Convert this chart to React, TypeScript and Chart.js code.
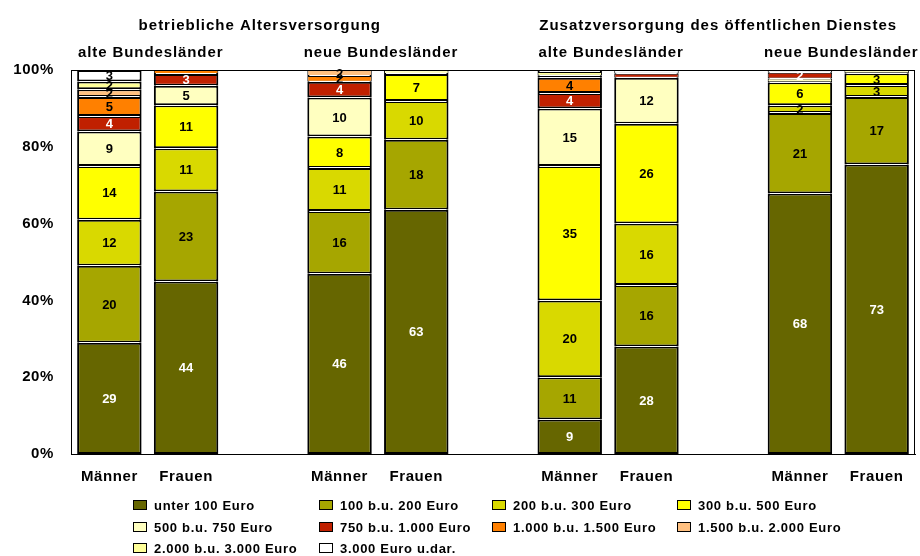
import React, { useEffect, useRef } from "react";
import { Chart, registerables } from "chart.js";

Chart.register(...registerables);

const FONT = '"Liberation Sans", Arial, sans-serif';

// 11 slots: 4 groups of two bars, separated by empty slots
const categories = ["Männer", "Frauen", "", "Männer", "Frauen", "", "Männer", "Frauen", "", "Männer", "Frauen"];

const mainTitles = ["betriebliche Altersversorgung", "Zusatzversorgung des öffentlichen Dienstes"];
const subTitles = ["alte Bundesländer", "neue Bundesländer", "alte Bundesländer", "neue Bundesländer"];
const groupSlots = [[0, 1], [3, 4], [6, 7], [9, 10]];

const seriesNames = [
  "unter 100 Euro",
  "100 b.u. 200 Euro",
  "200 b.u. 300 Euro",
  "300 b.u. 500 Euro",
  "500 b.u. 750 Euro",
  "750 b.u. 1.000 Euro",
  "1.000 b.u. 1.500 Euro",
  "1.500 b.u. 2.000 Euro",
  "2.000 b.u. 3.000 Euro",
  "3.000 Euro u.dar.",
];

// values per slot (null = empty slot)
const unter100 = [29, 44, null, 46, 63, null, 9, 28, null, 68, 73];
const b100_200 = [20, 23, null, 16, 18, null, 11, 16, null, 21, 17];
const b200_300 = [12, 11, null, 11, 10, null, 20, 16, null, 2, 3];
const b300_500 = [14, 11, null, 8, 7, null, 35, 26, null, 6, 3];
const b500_750 = [9, 5, null, 10, 1, null, 15, 12, null, 1, 0.8];
const b750_1000 = [4, 3, null, 4, 0, null, 4, 1, null, 1.5, 0];
const b1000_1500 = [5, 1, null, 1.5, 0, null, 4, 0, null, 0, 0];
const b1500_2000 = [2, 0, null, 1.5, 0, null, 0.5, 0, null, 0, 0];
const b2000_3000 = [2, 0, null, 0, 0, null, 1, 0, null, 0, 0];
const b3000 = [3, 0, null, 0, 0, null, 0.5, 1, null, 0.7, 0];

const seriesColors = [
  "#666600",
  "#A6A600",
  "#D9D900",
  "#FFFF00",
  "#FFFFC0",
  "#C02000",
  "#FF8000",
  "#FFC080",
  "#FFFF99",
  "#FFFFFF",
];
const whiteLabel = [true, false, false, false, false, true, false, false, false, false];

const yTicks = [0, 20, 40, 60, 80, 100];

const seriesValues = [
  unter100, b100_200, b200_300, b300_500, b500_750,
  b750_1000, b1000_1500, b1500_2000, b2000_3000, b3000,
];

export default function App() {
  const ref = useRef<HTMLCanvasElement>(null);

  useEffect(() => {
    document.body.style.margin = "0";
    const canvas = ref.current!;
    const totals = categories.map((_, i) =>
      seriesValues.reduce((s, arr) => s + ((arr[i] as number | null) ?? 0), 0)
    );
    const datasets = seriesValues.map((arr, k) => ({
      label: seriesNames[k],
      data: arr.map((v, i) => (v == null || v === 0 ? null : ((v as number) / totals[i]) * 100)),
      backgroundColor: seriesColors[k],
      borderColor: "#000000",
      borderWidth: (c: any) => {
        const v = c.raw as number | null;
        return v != null && v < 1.6 ? 1 : 2;
      },
      borderSkipped: false as const,
      inflateAmount: 0,
      barPercentage: 0.84,
      categoryPercentage: 1,
    }));

    const textPlugin = {
      id: "texts",
      beforeDraw(chart: any) {
        chart.ctx.letterSpacing = "0.6px";
      },
      beforeDatasetsDraw(chart: any) {
        chart.ctx.letterSpacing = "0px";
      },
      afterDatasetsDraw(chart: any) {
        const ctx = chart.ctx as CanvasRenderingContext2D;
        ctx.save();
        (ctx as any).letterSpacing = "0px";
        // white separators between stacked segments
        ctx.fillStyle = "#ffffff";
        seriesValues.forEach((arr, k) => {
          const meta = chart.getDatasetMeta(k);
          meta.data.forEach((el: any, i: number) => {
            const v = arr[i];
            if (v == null || v === 0) return;
            const p = el.getProps(["x", "y", "base", "width"], true);
            if (p.y <= chart.chartArea.top + 1) return;
            ctx.fillRect(p.x - p.width / 2 + 2, Math.round(p.y - 0.5), p.width - 4, 1);
          });
        });
        ctx.font = `bold 13px ${FONT}`;
        ctx.textAlign = "center";
        ctx.textBaseline = "middle";
        seriesValues.forEach((arr, k) => {
          const meta = chart.getDatasetMeta(k);
          meta.data.forEach((el: any, i: number) => {
            const v = arr[i];
            if (v == null || Math.round(v as number) < 2) return;
            const p = el.getProps(["x", "y", "base"], true);
            ctx.fillStyle = whiteLabel[k] ? "#ffffff" : "#000000";
            ctx.fillText(String(Math.round(v as number)), p.x, (p.y + p.base) / 2 + 1);
          });
        });
        ctx.restore();
      },
      afterDraw(chart: any) {
        const ctx = chart.ctx as CanvasRenderingContext2D;
        const area = chart.chartArea;
        const xs = chart.scales.x;
        ctx.save();
        // plot frame
        ctx.strokeStyle = "#000";
        ctx.lineWidth = 1;
        ctx.strokeRect(Math.round(area.left) + 0.5, Math.round(area.top) + 0.5,
          Math.round(area.right - area.left) - 1, Math.round(area.bottom - area.top));

        ctx.fillStyle = "#000";
        ctx.textAlign = "center";
        ctx.textBaseline = "middle";
        const centers = groupSlots.map(
          ([a, b]) => (xs.getPixelForValue(a) + xs.getPixelForValue(b)) / 2 + 3
        );
        ctx.font = `bold 15px ${FONT}`;
        (ctx as any).letterSpacing = "0.9px";
        subTitles.forEach((t, i) => ctx.fillText(t, centers[i], 53));
        (ctx as any).letterSpacing = "1px";
        ctx.fillText(mainTitles[0], (centers[0] + centers[1]) / 2 - 6, 26);
        ctx.fillText(mainTitles[1], (centers[2] + centers[3]) / 2 - 8, 26);

        // legend
        const colX = [133, 319, 492, 677];
        const rowY = [505, 527, 548];
        ctx.font = `bold 13px ${FONT}`;
        (ctx as any).letterSpacing = "0.7px";
        ctx.textAlign = "left";
        seriesNames.forEach((name, k) => {
          const c = k % 4;
          const r = Math.floor(k / 4);
          const bx = colX[c];
          const by = rowY[r];
          ctx.fillStyle = seriesColors[k];
          ctx.fillRect(bx, by - 5, 14, 10);
          ctx.strokeStyle = "#000";
          ctx.strokeRect(bx + 0.5, by - 4.5, 13, 9);
          ctx.fillStyle = "#000";
          ctx.fillText(name, bx + 21, by + 1);
        });
        ctx.restore();
      },
    };

    const chart = new Chart(canvas, {
      type: "bar",
      data: { labels: categories, datasets },
      options: {
        animation: false,
        responsive: false,
        maintainAspectRatio: false,
        layout: { padding: { top: 70, right: 5, left: 0, bottom: 0 } },
        plugins: { legend: { display: false }, tooltip: { enabled: false }, title: { display: false } },
        scales: {
          x: {
            stacked: true,
            grid: { display: false, drawTicks: false },
            border: { display: true, color: "#000", width: 1 },
            ticks: {
              color: "#000",
              font: { family: FONT, size: 15, weight: "bold" },
              padding: 14,
              maxRotation: 0,
              autoSkip: false,
            },
            afterFit: (s: any) => { s.height = 102; },
          },
          y: {
            stacked: true,
            min: 0,
            max: 100,
            afterBuildTicks: (s: any) => { s.ticks = yTicks.map((v) => ({ value: v })); },
            grid: { display: false, drawTicks: false },
            border: { display: true, color: "#000", width: 1 },
            ticks: {
              color: "#000",
              font: { family: FONT, size: 15, weight: "bold" },
              padding: 17,
              callback: (v: any) => `${v}%`,
            },
            afterFit: (s: any) => { s.width = 71; },
          },
        },
      },
      plugins: [textPlugin],
    } as any);

    return () => chart.destroy();
  }, []);

  return (
    <div style={{ width: 920, height: 556, background: "#fff" }}>
      <canvas ref={ref} width={920} height={556} style={{ display: "block" }} />
    </div>
  );
}
